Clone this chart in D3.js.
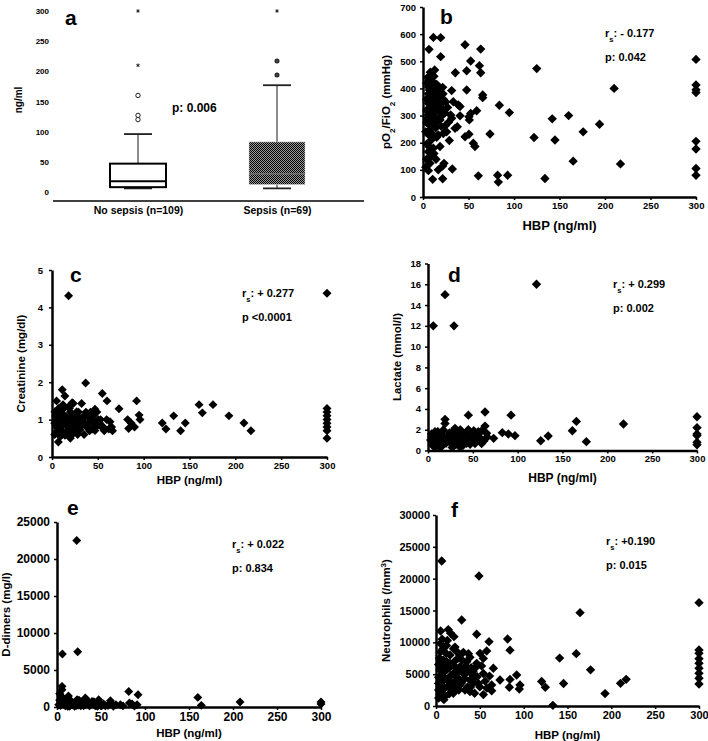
<!DOCTYPE html>
<html><head><meta charset="utf-8">
<script src="https://cdn.jsdelivr.net/npm/d3@7"></script>
<style>
body{margin:0;background:#fff}
svg text{font-family:Arial,"Liberation Sans",sans-serif;font-weight:bold;fill:#000}
</style>
</head><body>
<svg id="chart" width="708" height="741"></svg>
<script>
// ---------- Panel a: box plot ----------
const boxGroups = ["No sepsis (n=109)", "Sepsis (n=69)"];
const boxLow = [6, 6];
const boxQ1 = [8, 12.5];
const boxMedian = [18, 30];
const boxQ3 = [47, 83];
const boxHigh = [96, 177];
const boxOutliers = [[160, 127, 120], [217, 194]];
const boxExtremes = [[300, 210], [300]];
const boxTicks = [0, 50, 100, 150, 200, 250, 300];

// ---------- Scatter panels: [HBP, value] ----------
const hbpTicks = [0, 50, 100, 150, 200, 250, 300];

const pfTicks = [0, 100, 200, 300, 400, 500, 600, 700];
const pfData = [[11.4,588],[19.4,587],[6.6,544],[19.4,517],[46.2,561],[63.4,545],[52.4,501],[48,465],[62,484],[63.4,458],[35.5,458],[12.8,468],[9.5,453],[7.7,431],[11.4,421],[21.6,404],[31.5,392],[48,394],[7,394],[11.4,382],[15,370],[18.7,363],[22.3,360],[65.6,376],[65.6,366],[9.5,357],[13.2,351],[5.9,345],[16.8,345],[33.3,351],[38.8,339],[40.7,333],[83.9,338],[94.9,311],[9.5,333],[15,327],[20.5,327],[11.4,308],[5.9,302],[7.7,290],[16.8,288],[30.4,302],[31.5,290],[40.7,299],[52.4,308],[50.5,296],[59,318],[50.9,284],[18.7,284],[4,274],[10.6,262],[24.2,262],[35.2,253],[37.7,259],[73.6,232],[16.8,229],[22.3,234],[15,220],[28.9,208],[46.2,222],[50.5,231],[55.3,198],[57.1,186],[18.7,186],[11.4,180],[5.9,167],[9.5,151],[4,139],[14.3,139],[7.7,124],[23.1,124],[21.6,114],[32.2,103],[16.8,100],[5.9,97],[10.6,65],[21.6,67],[60.8,78],[82,80],[93,80],[82.8,55],[8,410],[10,395],[12,370],[14,360],[6,380],[9,340],[13,320],[17,350],[19,340],[7,320],[12,300],[16,280],[20,260],[8,250],[11,230],[6,270],[5,440],[8,460],[10,300],[14,400],[4,420],[6,405],[9,430],[12,445],[15,415],[17,400],[4,360],[7,350],[10,365],[13,385],[16,375],[19,390],[22,380],[25,350],[27,330],[24,310],[21,300],[18,315],[4,320],[5,290],[8,280],[12,275],[14,255],[3,240],[6,230],[9,210],[4,195],[7,185],[12,160],[3,110],[28,275],[26,240],[125,473],[122,219],[142,288],[145,210],[160,300],[165,132],[176,240],[194,268],[210,400],[217,122],[134,68],[300,507],[300,413],[300,395],[300,385],[300,205],[300,177],[300,105],[300,80]];

const creatTicks = [0, 1, 2, 3, 4, 5];
const creatData = [[18.1,4.31],[300,4.38],[36.7,1.98],[11.2,1.8],[14.1,1.63],[5,1.5],[54.9,1.7],[60,1.5],[92.3,1.5],[73.1,1.29],[46.9,1.28],[32.3,1.43],[23.2,1.43],[17.8,1.34],[26.9,1.21],[10.5,1.16],[3.2,1.21],[6.9,0.98],[16,1.07],[21.4,0.94],[30.5,1.03],[39.6,1.07],[43.2,0.94],[36,0.89],[50.5,1.0],[59.6,1.0],[63.3,0.94],[65,0.8],[54.1,0.8],[46.9,0.71],[39.6,0.76],[30.5,0.73],[23.2,0.63],[14.1,0.58],[6.9,0.4],[5,0.8],[10.5,0.71],[17.8,0.71],[25,0.8],[32.3,0.87],[82.5,1.0],[86.2,0.91],[83.6,0.76],[90,0.8],[95,1.12],[96,1.0],[8,1.1],[12,1.0],[15,0.9],[18,0.8],[20,1.2],[22,1.1],[25,1.0],[28,0.9],[8,0.9],[10,0.8],[13,1.3],[16,0.7],[19,0.6],[24,0.8],[27,1.1],[33,0.9],[35,1.1],[38,0.8],[42,1.2],[44,1.0],[48,0.8],[52,0.9],[56,0.8],[22,1.45],[5,1.0],[7,1.3],[3,0.9],[4,1.1],[6,0.7],[9,1.2],[11,0.6],[12,1.4],[14,1.1],[17,1.0],[19,1.3],[21,0.8],[23,1.0],[26,0.7],[29,1.2],[31,0.8],[34,1.0],[37,1.2],[40,0.9],[41,0.7],[45,1.1],[47,0.9],[49,1.2],[53,1.0],[57,0.7],[62,0.75],[66,0.7],[20,0.5],[28,0.6],[35,0.6],[44,0.75],[3,0.6],[9,0.55],[160.4,1.4],[175.6,1.4],[164,1.18],[132.7,1.1],[193,1.1],[120.3,0.91],[124.3,0.75],[140.3,0.7],[145.4,0.91],[209.4,0.91],[217,0.7],[300,1.3],[300,1.2],[300,1.1],[300,1.0],[300,0.9],[300,0.8],[300,0.7],[300,0.5]];

const lactTicks = [0, 2, 4, 6, 8, 10, 12, 14, 16, 18];
const lactData = [[5.9,12],[29,12],[19,15],[121,16],[19,3.0],[19,2.6],[45,3.4],[63.6,3.7],[92.6,3.4],[63.6,2.35],[7.8,1.8],[17.1,1.97],[30.1,2.13],[33.8,1.8],[45,2.0],[56.1,1.8],[65.4,1.65],[82.9,1.72],[89.6,1.59],[97,1.43],[73.2,1.17],[4.1,1.33],[11.5,1.5],[24.5,1.33],[37.5,1.33],[48.6,1.33],[59.8,1.0],[11.5,0.68],[26.4,0.68],[39.4,0.53],[52.4,0.68],[19,1.0],[32,1.0],[45,0.85],[5.9,1.0],[59.8,0.68],[8,1.5],[10,1.2],[12,0.9],[14,1.6],[16,1.1],[18,0.8],[22,1.4],[24,1.7],[27,0.3],[30,1.2],[35,0.9],[42,1.1],[47,0.6],[50,1.4],[55,1.2],[36,2.0],[51,1.9],[60,1.9],[3,1.0],[5,0.5],[7,1.2],[9,0.7],[11,1.8],[13,1.1],[15,0.5],[17,1.4],[20,0.7],[21,1.2],[23,0.9],[26,1.5],[28,1.8],[31,0.6],[33,1.5],[38,0.9],[40,1.6],[43,0.7],[46,1.2],[49,0.9],[53,1.7],[57,1.3],[62,0.9],[66,1.3],[4,1.6],[8,0.3],[14,0.3],[36,0.3],[44,1.8],[125.7,0.94],[134,1.4],[161,1.9],[165.5,2.8],[176.6,0.85],[218,2.55],[300,3.25],[300,2.2],[300,1.6],[300,1.45],[300,0.8],[300,0.55]];

const ddTicks = [0, 5000, 10000, 15000, 20000, 25000];
const ddData = [[22.4,22500],[6.1,7160],[23.5,7470],[5.7,2790],[5.7,2340],[81.5,2100],[92.1,1660],[5.7,1400],[32.2,1210],[22.8,990],[47.4,990],[13.3,760],[39.8,760],[60.7,850],[5.7,540],[17.1,310],[26.5,540],[36,310],[51.2,310],[55,180],[72,310],[82.3,540],[85.3,400],[91,310],[9.5,180],[30.3,180],[43.6,180],[2,310],[8,600],[11,400],[15,200],[19,500],[24,250],[28,700],[34,450],[41,500],[45,250],[12,100],[20,100],[64,100],[88,120],[3,900],[4,200],[7,1100],[9,700],[10,300],[13,1500],[14,100],[16,800],[18,300],[21,700],[22,200],[25,900],[27,150],[30,600],[32,300],[35,800],[37,150],[39,400],[42,700],[46,100],[48,600],[50,150],[53,400],[58,200],[62,500],[67,300],[75,150],[3,1800],[5,1000],[160,1300],[164,220],[208,670],[300,670],[300,400]];

const neuTicks = [0, 5000, 10000, 15000, 20000, 25000, 30000];
const neuData = [[6.5,22770],[49,20420],[300,16230],[164.3,14660],[29.3,13500],[5.3,11770],[16.7,11420],[20.5,10890],[46.4,11260],[60.5,10110],[12.9,10280],[81.7,10520],[84.4,8770],[21.7,9250],[23.6,8560],[11.4,8300],[31.2,8430],[50.2,8270],[57.8,8640],[8.4,7230],[38.8,7640],[16,6700],[27.4,6170],[35,6960],[46.4,6700],[54,7480],[65.4,5920],[4.6,5660],[19.8,5110],[31.2,5660],[42.2,5400],[54,5110],[73,4080],[84.4,4180],[92,4860],[95.8,3300],[95,2660],[8.4,4600],[23.6,4600],[38.8,4080],[48.3,3540],[63.5,3300],[63.5,2400],[54,1790],[83.7,2950],[4.6,3030],[16,2770],[27.4,3300],[33.1,2520],[4.6,1770],[10.3,1520],[19.8,2000],[38.8,2250],[3,3540],[3,2500],[3,1240],[6,6500],[10,5500],[13,4000],[15,6000],[18,3500],[22,5000],[25,7500],[28,4000],[32,5000],[36,3000],[40,6000],[44,4500],[8,9000],[12,7000],[26,2500],[44,2000],[3,4500],[4,7500],[5,8500],[6,2000],[7,3800],[8,5200],[9,6200],[10,2800],[11,4300],[12,9500],[13,5800],[14,3100],[15,1900],[16,8000],[17,4800],[18,6400],[19,3600],[21,7000],[22,2700],[23,6000],[24,4200],[26,5500],[27,8000],[29,3600],[30,7200],[33,4300],[34,6300],[36,5400],[37,8200],[39,2900],[41,5000],[43,3600],[45,6000],[47,4600],[50,3000],[52,6300],[56,3900],[58,2800],[61,4700],[3,6500],[5,9800],[7,10500],[9,1000],[14,12000],[20,9000],[120.5,3840],[124.7,2950],[133.3,100],[141,7520],[145.5,3540],[160,8220],[176.3,5680],[192.8,1950],[210.5,3560],[216.9,4190],[300,8800],[300,8270],[300,7430],[300,6700],[300,5920],[300,5130],[300,4350],[300,3460]];

const stats = {
  b: {r: "- 0.177", p: "p: 0.042"},
  c: {r: "+ 0.277", p: "p <0.0001"},
  d: {r: "+ 0.299", p: "p: 0.002"},
  e: {r: "+ 0.022", p: "p: 0.834"},
  f: {r: "+0.190", p: "p: 0.015"}
};

const svg = d3.select("#chart");
const FONT = 'Arial,"Liberation Sans",sans-serif';

function styleAxis(g, fs, domW) {
  g.attr("font-family", FONT).attr("font-size", fs).attr("font-weight", "bold");
  g.select(".domain").attr("stroke", "#000").attr("stroke-width", domW);
  g.selectAll(".tick line").attr("stroke", "#000").attr("stroke-width", 1.5);
  g.selectAll(".tick text").attr("fill", "#000");
}

// ---------- Panel a ----------
(function () {
  const y = d3.scaleLinear().domain([0, 300]).range([192, 11]);
  const x = d3.scalePoint().domain(boxGroups).range([138, 277]);
  const g = svg.append("g");
  const defs = svg.append("defs");
  const pat = defs.append("pattern").attr("id", "dots").attr("width", 2).attr("height", 2)
    .attr("patternUnits", "userSpaceOnUse");
  pat.append("rect").attr("width", 2).attr("height", 2).attr("fill", "#9a9a9a");
  pat.append("rect").attr("width", 1).attr("height", 1).attr("fill", "#000");
  pat.append("rect").attr("x", 1).attr("y", 1).attr("width", 1).attr("height", 1).attr("fill", "#000");

  const ya = g.append("g").attr("transform", "translate(53,0)")
    .call(d3.axisLeft(y).tickValues(boxTicks).tickSize(0).tickPadding(4));
  styleAxis(ya, 8, 0);
  ya.select(".domain").remove();

  const xa = g.append("g").attr("transform", "translate(0,201)")
    .call(d3.axisBottom(x).tickSize(0).tickPadding(6));
  styleAxis(xa, 10.5, 0);
  xa.select(".domain").remove();
  g.append("line").attr("x1", 53).attr("x2", 364).attr("y1", 201).attr("y2", 201)
    .attr("stroke", "#000").attr("stroke-width", 1.5);

  const bw = 56, cw = 28;
  boxGroups.forEach((grp, i) => {
    const cx = x(grp);
    g.append("line").attr("x1", cx).attr("x2", cx).attr("y1", y(boxQ3[i])).attr("y2", y(boxHigh[i]))
      .attr("stroke", "#666").attr("stroke-width", 1.5);
    g.append("line").attr("x1", cx).attr("x2", cx).attr("y1", y(boxQ1[i])).attr("y2", y(boxLow[i]))
      .attr("stroke", "#666").attr("stroke-width", 1.5);
    g.append("line").attr("x1", cx - cw / 2).attr("x2", cx + cw / 2).attr("y1", y(boxHigh[i])).attr("y2", y(boxHigh[i]))
      .attr("stroke", "#222").attr("stroke-width", 1.8);
    g.append("line").attr("x1", cx - cw / 2).attr("x2", cx + cw / 2).attr("y1", y(boxLow[i])).attr("y2", y(boxLow[i]))
      .attr("stroke", "#222").attr("stroke-width", 1.8);
    g.append("rect").attr("x", cx - bw / 2).attr("width", bw)
      .attr("y", y(boxQ3[i])).attr("height", y(boxQ1[i]) - y(boxQ3[i]))
      .attr("fill", i === 0 ? "#fff" : "url(#dots)")
      .attr("stroke", i === 0 ? "#000" : "#ccc").attr("stroke-width", i === 0 ? 2 : 0.5);
    g.append("line").attr("x1", cx - bw / 2).attr("x2", cx + bw / 2).attr("y1", y(boxMedian[i])).attr("y2", y(boxMedian[i]))
      .attr("stroke", i === 0 ? "#000" : "#777").attr("stroke-width", i === 0 ? 2 : 1.2);
    g.selectAll(null).data(boxOutliers[i]).join("circle")
      .attr("cx", cx).attr("cy", d => y(d)).attr("r", i === 0 ? 2.2 : 1.9)
      .attr("fill", i === 0 ? "#fff" : "#444").attr("stroke", "#222").attr("stroke-width", i === 0 ? 1 : 1.2);
    g.selectAll(null).data(boxExtremes[i]).join("path")
      .attr("d", d3.symbol(d3.symbolAsterisk, 9))
      .attr("transform", d => `translate(${cx},${y(d)})`)
      .attr("stroke", "#222").attr("stroke-width", 1);
  });
  g.append("text").attr("x", 172).attr("y", 112).attr("font-size", 12).text("p: 0.006");
  g.append("text").attr("x", 65).attr("y", 25).attr("font-size", 21).text("a");
  g.append("text").attr("transform", "translate(22,100) rotate(-90)").attr("text-anchor", "middle")
    .attr("font-size", 10).text("ng/ml");
})();

// ---------- Scatter panels ----------
function scatter(cfg) {
  const x = d3.scaleLinear().domain([0, 300]).range([cfg.x0, cfg.x1]);
  const y = d3.scaleLinear().domain([0, cfg.ymax]).range([cfg.y0, cfg.y1]);
  const g = svg.append("g");

  g.selectAll("path.pt").data(cfg.data).join("path").attr("class", "pt")
    .attr("d", d3.symbol(d3.symbolSquare, cfg.ms))
    .attr("transform", d => `translate(${x(d[0])},${y(d[1])}) rotate(45)`)
    .attr("fill", "#000");

  const ya = g.append("g").attr("transform", `translate(${cfg.x0},0)`)
    .call(d3.axisLeft(y).tickValues(cfg.yticks).tickSize(3).tickSizeOuter(0).tickPadding(cfg.ypad).tickFormat(d3.format("d")));
  styleAxis(ya, cfg.fs, 2.5);
  const xa = g.append("g").attr("transform", `translate(0,${cfg.y0})`)
    .call(d3.axisBottom(x).tickValues(hbpTicks).tickSize(3).tickSizeOuter(0).tickPadding(2).tickFormat(d3.format("d")));
  styleAxis(xa, cfg.fs, 2.5);

  g.append("text").attr("x", (cfg.x0 + cfg.x1) / 2).attr("y", cfg.xlabY).attr("text-anchor", "middle")
    .attr("font-size", cfg.xtfs).text("HBP (ng/ml)");

  const yl = g.append("text").attr("transform", `translate(${cfg.ylabX},${(cfg.y0 + cfg.y1) / 2}) rotate(-90)`)
    .attr("text-anchor", "middle").attr("font-size", cfg.tfs);
  cfg.ylab.forEach(part => {
    const t = yl.append("tspan").text(part.t);
    if (part.sub) t.attr("baseline-shift", "sub").attr("font-size", cfg.tfs * 0.7);
    if (part.sup) t.attr("baseline-shift", "super").attr("font-size", cfg.tfs * 0.7);
  });

  g.append("text").attr("x", cfg.lx).attr("y", cfg.ly).attr("font-size", 21).text(cfg.letter);

  const st = stats[cfg.letter];
  const rt = g.append("text").attr("x", cfg.sx).attr("y", cfg.sy).attr("font-size", 11);
  rt.append("tspan").text("r");
  rt.append("tspan").attr("baseline-shift", "sub").attr("font-size", 7.5).text("s");
  rt.append("tspan").text(": " + st.r);
  g.append("text").attr("x", cfg.sx).attr("y", cfg.sy + 24).attr("font-size", 11).text(st.p);
}

scatter({letter: "b", data: pfData, yticks: pfTicks, ymax: 700,
  x0: 423, x1: 696, y0: 197, y1: 7, fs: 9.5, tfs: 11.5, xtfs: 13, ms: 44, ypad: 4,
  xlabY: 230, ylabX: 390,
  ylab: [{t: "pO"}, {t: "2", sub: true}, {t: "/FiO"}, {t: "2", sub: true}, {t: " (mmHg)"}],
  lx: 440, ly: 24, sx: 605, sy: 37});

scatter({letter: "c", data: creatData, yticks: creatTicks, ymax: 5,
  x0: 52, x1: 327, y0: 457, y1: 270, fs: 9.5, tfs: 11.5, xtfs: 11.5, ms: 40, ypad: 6,
  xlabY: 484, ylabX: 25,
  ylab: [{t: "Creatinine (mg/dl)"}],
  lx: 70, ly: 282, sx: 242, sy: 297});

scatter({letter: "d", data: lactData, yticks: lactTicks, ymax: 18,
  x0: 428, x1: 697, y0: 450.5, y1: 263.5, fs: 9.5, tfs: 11.5, xtfs: 12, ms: 44, ypad: 4,
  xlabY: 482, ylabX: 401,
  ylab: [{t: "Lactate (mmol/l)"}],
  lx: 448, ly: 282, sx: 613, sy: 288});

scatter({letter: "e", data: ddData, yticks: ddTicks, ymax: 25000,
  x0: 57, x1: 321, y0: 707, y1: 522, fs: 12, tfs: 11.5, xtfs: 11.5, ms: 40, ypad: 4,
  xlabY: 737, ylabX: 10,
  ylab: [{t: "D-dimers (mg/l)"}],
  lx: 67, ly: 515, sx: 232, sy: 548});

scatter({letter: "f", data: neuData, yticks: neuTicks, ymax: 30000,
  x0: 436, x1: 699, y0: 706, y1: 515, fs: 11, tfs: 11.5, xtfs: 11.5, ms: 44, ypad: 3,
  xlabY: 739, ylabX: 390,
  ylab: [{t: "Neutrophils (/mm"}, {t: "3", sup: true}, {t: ")"}],
  lx: 451, ly: 517, sx: 606, sy: 545});
</script>
</body></html>
